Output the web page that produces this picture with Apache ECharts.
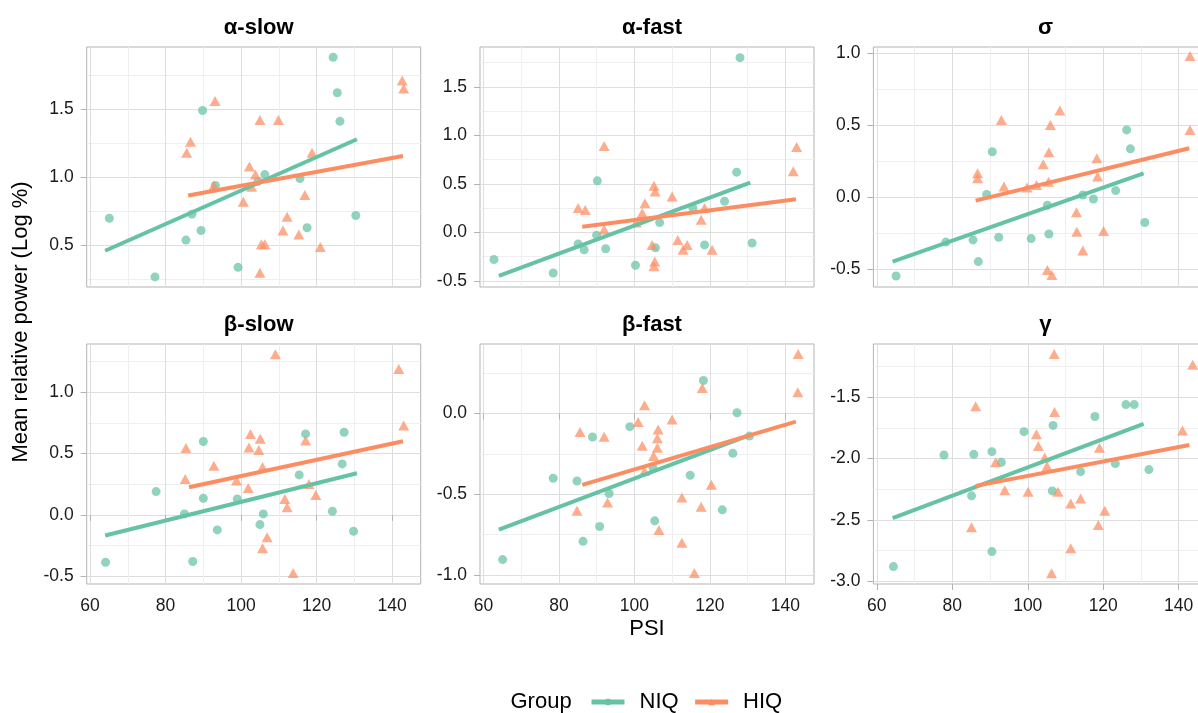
<!DOCTYPE html>
<html><head><meta charset="utf-8">
<script src="https://cdn.jsdelivr.net/npm/echarts@6/dist/echarts.min.js"></script>
<style>html,body{margin:0;padding:0;background:#fff;overflow:hidden;width:1198px;height:713px}#c{width:1216px;height:713px}</style>
</head><body><div id="c"></div>
<script>
const panelTitles = ['α-slow', 'α-fast', 'σ', 'β-slow', 'β-fast', 'γ'];
const xRange = [59.1, 147.6];
const xTicks = [60, 80, 100, 120, 140];
const xMinor = [70, 90, 110, 130];
const yRanges = [[0.196, 1.955], [-0.564, 1.910], [-0.621, 1.04], [-0.563, 1.393], [-1.056, 0.43], [-3.022, -1.065]];
const yTicks = [[0.5, 1.0, 1.5], [-0.5, 0, 0.5, 1.0, 1.5], [-0.5, 0, 0.5, 1.0], [-0.5, 0, 0.5, 1.0], [-1.0, -0.5, 0], [-3.0, -2.5, -2.0, -1.5]];
const yMinor = [[0.25, 0.75, 1.25, 1.75], [-0.25, 0.25, 0.75, 1.25, 1.75], [-0.25, 0.25, 0.75], [-0.25, 0.25, 0.75, 1.25], [-0.75, -0.25, 0.25], [-2.75, -2.25, -1.75, -1.25]];

// α-slow
const aSlowNiqX = [65.1, 77.2, 85.4, 87.0, 89.4, 89.8, 93.2, 99.2, 104.5, 106.3, 115.6, 117.5, 124.4, 125.5, 126.2, 130.4];
const aSlowNiqY = [0.70, 0.27, 0.54, 0.73, 0.61, 1.49, 0.94, 0.34, 0.97, 1.02, 0.99, 0.63, 1.88, 1.62, 1.41, 0.72];
const aSlowHiqX = [85.6, 86.6, 92.8, 93.1, 100.6, 102.2, 103.8, 102.8, 105.0, 105.0, 105.4, 106.3, 109.9, 111.1, 112.2, 115.3, 116.9, 118.8, 121.0, 142.7, 143.1];
const aSlowHiqY = [1.18, 1.26, 0.94, 1.56, 0.82, 1.08, 1.02, 0.93, 1.42, 0.30, 0.51, 0.51, 1.42, 0.61, 0.71, 0.58, 0.87, 1.18, 0.49, 1.71, 1.65];
// α-fast
const aFastNiqX = [62.8, 78.5, 85.1, 86.7, 90.0, 90.2, 92.4, 100.3, 105.6, 106.7, 115.5, 118.6, 123.9, 127.1, 128.0, 131.2];
const aFastNiqY = [-0.28, -0.42, -0.12, -0.18, -0.03, 0.53, -0.17, -0.34, -0.16, 0.10, 0.25, -0.13, 0.32, 0.62, 1.80, -0.11];
const aFastHiqX = [85.1, 87.0, 92.0, 92.0, 100.5, 102.1, 102.8, 104.7, 105.2, 105.5, 105.4, 105.2, 110.0, 111.5, 112.9, 114.0, 117.7, 118.6, 120.6, 142.1, 143.0];
const aFastHiqY = [0.25, 0.23, 0.89, 0.03, 0.10, 0.20, 0.30, -0.13, 0.48, 0.42, -0.30, -0.35, 0.37, -0.08, -0.18, -0.13, 0.13, 0.25, -0.18, 0.63, 0.88];
// σ
const sigmaNiqX = [65.1, 78.3, 85.5, 86.9, 89.1, 90.6, 92.3, 100.9, 105.2, 105.6, 114.6, 117.4, 123.3, 126.2, 127.2, 131.0];
const sigmaNiqY = [-0.545, -0.31, -0.295, -0.445, 0.02, 0.315, -0.277, -0.286, -0.055, -0.254, 0.016, -0.012, 0.046, 0.466, 0.335, -0.175];
const sigmaHiqX = [86.7, 86.7, 93.0, 93.7, 99.8, 102.3, 104.1, 105.6, 105.5, 106.0, 105.2, 106.4, 108.5, 112.9, 113.0, 114.6, 118.3, 118.5, 120.1, 143.0, 143.0];
const sigmaHiqY = [0.166, 0.132, 0.535, 0.074, 0.067, 0.085, 0.228, 0.312, 0.108, 0.50, -0.503, -0.538, 0.60, -0.104, -0.238, -0.369, 0.27, 0.143, -0.233, 0.978, 0.466];
// β-slow
const bSlowNiqX = [64.1, 77.5, 85.0, 87.2, 90.0, 90.0, 93.7, 99.0, 105.0, 105.9, 115.4, 117.1, 124.2, 126.8, 127.3, 129.8];
const bSlowNiqY = [-0.386, 0.19, 0.008, -0.38, 0.598, 0.136, -0.122, 0.13, -0.079, 0.008, 0.326, 0.66, 0.03, 0.416, 0.674, -0.133];
const bSlowHiqX = [85.2, 85.4, 92.8, 98.8, 101.9, 102.1, 102.5, 104.7, 105.1, 105.7, 105.7, 106.9, 109.1, 111.6, 112.2, 113.8, 117.1, 118.0, 119.8, 141.8, 143.1];
const bSlowHiqY = [0.293, 0.546, 0.40, 0.28, 0.22, 0.55, 0.66, 0.53, 0.62, 0.39, -0.272, -0.182, 1.31, 0.13, 0.063, -0.473, 0.606, 0.253, 0.163, 1.19, 0.728];
// β-fast
const bFastNiqX = [65.1, 78.5, 84.8, 86.4, 88.9, 90.8, 93.3, 98.8, 104.9, 105.4, 114.8, 118.3, 123.3, 126.1, 127.2, 130.5];
const bFastNiqY = [-0.905, -0.401, -0.418, -0.792, -0.146, -0.70, -0.496, -0.082, -0.335, -0.665, -0.383, 0.204, -0.597, -0.247, 0.004, -0.14];
const bFastHiqX = [84.8, 85.6, 92.0, 92.9, 101.0, 102.1, 102.7, 102.7, 105.1, 106.1, 106.1, 106.3, 106.5, 110.0, 112.6, 112.6, 115.9, 117.7, 118.0, 120.4, 143.4, 143.3];
const bFastHiqY = [-0.603, -0.115, -0.144, -0.551, -0.053, -0.20, 0.05, -0.356, -0.263, -0.212, -0.154, -0.099, -0.722, -0.037, -0.52, -0.80, -0.988, -0.578, 0.158, -0.442, 0.368, 0.132];
// γ
const gammaNiqX = [64.4, 77.8, 85.1, 85.7, 90.5, 90.5, 93.0, 99.0, 106.7, 106.5, 114.0, 117.8, 123.2, 126.0, 128.2, 132.1];
const gammaNiqY = [-2.88, -1.97, -2.303, -1.965, -1.943, -2.758, -2.03, -1.78, -1.729, -2.263, -2.106, -1.656, -2.04, -1.559, -1.559, -2.089];
const gammaHiqX = [85.1, 86.2, 91.5, 93.9, 100.1, 102.3, 102.8, 104.5, 105.1, 106.3, 107.0, 107.1, 108.0, 111.4, 111.4, 114.0, 118.7, 119.0, 120.4, 141.0, 143.7];
const gammaHiqY = [-2.56, -1.572, -2.03, -2.257, -2.27, -1.80, -1.897, -1.99, -2.06, -2.934, -1.147, -1.62, -2.27, -2.366, -2.73, -2.325, -2.54, -1.91, -2.425, -1.77, -1.234];

// fitted lines: [x0, y0, x1, y1]
const niqFit = [[64.0, 0.462, 130.7, 1.279], [64.1, -0.45, 130.7, 0.512], [64.2, -0.445, 130.7, 0.166], [64.0, -0.168, 130.7, 0.34], [64.1, -0.72, 130.5, -0.134], [64.2, -2.485, 130.7, -1.716]];
const hiqFit = [[86.0, 0.866, 142.9, 1.156], [86.2, 0.058, 142.8, 0.34], [86.2, -0.023, 142.8, 0.339], [86.2, 0.226, 142.9, 0.60], [86.2, -0.442, 142.8, -0.051], [86.2, -2.222, 142.8, -1.889]];

const groups = ['NIQ', 'HIQ'];

const niqXs = [aSlowNiqX, aFastNiqX, sigmaNiqX, bSlowNiqX, bFastNiqX, gammaNiqX];
const niqYs = [aSlowNiqY, aFastNiqY, sigmaNiqY, bSlowNiqY, bFastNiqY, gammaNiqY];
const hiqXs = [aSlowHiqX, aFastHiqX, sigmaHiqX, bSlowHiqX, bFastHiqX, gammaHiqX];
const hiqYs = [aSlowHiqY, aFastHiqY, sigmaHiqY, bSlowHiqY, bFastHiqY, gammaHiqY];

const GREEN = '#66C2A5', ORANGE = '#FC8D62';
const FONT = '"Liberation Sans", Arial, Helvetica, sans-serif';
const colLeft = [86.7, 480, 873.4];
const rowTop = [47, 344];
const PW = 334, PH = 240;
const zip = (a, b) => a.map((v, i) => [v, b[i]]);

const grids = [], xAxes = [], yAxes = [], titles = [], series = [];

// legend dummies
series.push({ name: groups[0], type: 'line', data: [], symbol: 'circle', itemStyle: { color: GREEN }, lineStyle: { color: GREEN, width: 4 } });
series.push({ name: groups[1], type: 'line', data: [], symbol: 'triangle', itemStyle: { color: ORANGE }, lineStyle: { color: ORANGE, width: 4 } });

for (let p = 0; p < 6; p++) {
  const col = p % 3, row = Math.floor(p / 3);
  const bottomRow = row === 1;
  grids.push({ left: colLeft[col], top: rowTop[row], width: PW, height: PH, show: true, borderColor: '#b3b3b3', borderWidth: 1, backgroundColor: 'transparent' });
  // major x
  xAxes.push({
    type: 'value', gridIndex: p, min: xRange[0], max: xRange[1], position: 'bottom',
    axisLine: { show: false },
    axisTick: { show: bottomRow, customValues: xTicks, length: 6, lineStyle: { color: '#b3b3b3' } },
    axisLabel: { show: bottomRow, customValues: xTicks, fontSize: 17.5, color: '#1a1a1a', fontFamily: FONT, margin: 13 },
    splitLine: { show: true, lineStyle: { color: '#dedede', width: 1 } }
  });
  // minor x
  xAxes.push({
    type: 'value', gridIndex: p, min: xRange[0], max: xRange[1], position: 'top',
    axisLine: { show: false },
    axisTick: { show: false, customValues: xMinor },
    axisLabel: { show: false, customValues: xMinor },
    splitLine: { show: true, lineStyle: { color: '#efefef', width: 1 } }
  });
  yAxes.push({
    type: 'value', gridIndex: p, min: yRanges[p][0], max: yRanges[p][1], position: 'left',
    axisLine: { show: false },
    axisTick: { show: true, customValues: yTicks[p], length: 6, lineStyle: { color: '#b3b3b3' } },
    axisLabel: { show: true, customValues: yTicks[p], fontSize: 17.5, color: '#1a1a1a', fontFamily: FONT, margin: 13, formatter: v => v.toFixed(1) },
    splitLine: { show: true, lineStyle: { color: '#dedede', width: 1 } }
  });
  yAxes.push({
    type: 'value', gridIndex: p, min: yRanges[p][0], max: yRanges[p][1], position: 'right',
    axisLine: { show: false },
    axisTick: { show: false, customValues: yMinor[p] },
    axisLabel: { show: false, customValues: yMinor[p] },
    splitLine: { show: true, lineStyle: { color: '#efefef', width: 1 } }
  });
  titles.push({
    text: panelTitles[p], left: colLeft[col] + PW / 2, top: rowTop[row] - 35, textAlign: 'center',
    textStyle: { fontSize: 22, fontWeight: 'bold', color: '#000', fontFamily: FONT }
  });
  const xi = 2 * p, yi = 2 * p;
  series.push({
    name: 'niq-pts', type: 'scatter', xAxisIndex: xi, yAxisIndex: yi, silent: true,
    data: zip(niqXs[p], niqYs[p]), symbol: 'circle', symbolSize: 9,
    itemStyle: { color: GREEN, opacity: 0.72 }
  });
  series.push({
    name: 'hiq-pts', type: 'scatter', xAxisIndex: xi, yAxisIndex: yi, silent: true,
    data: zip(hiqXs[p], hiqYs[p]), symbol: 'triangle', symbolSize: [11, 10],
    itemStyle: { color: ORANGE, opacity: 0.72 }
  });
  series.push({
    name: 'niq-fit', type: 'line', xAxisIndex: xi, yAxisIndex: yi, silent: true, showSymbol: false, symbol: 'none',
    data: [[niqFit[p][0], niqFit[p][1]], [niqFit[p][2], niqFit[p][3]]],
    lineStyle: { color: GREEN, width: 4 }
  });
  series.push({
    name: 'hiq-fit', type: 'line', xAxisIndex: xi, yAxisIndex: yi, silent: true, showSymbol: false, symbol: 'none',
    data: [[hiqFit[p][0], hiqFit[p][1]], [hiqFit[p][2], hiqFit[p][3]]],
    lineStyle: { color: ORANGE, width: 4 }
  });
}

const chart = echarts.init(document.getElementById('c'), null, { renderer: 'canvas' });
chart.setOption({
  backgroundColor: '#ffffff',
  animation: false,
  title: titles,
  grid: grids,
  xAxis: xAxes,
  yAxis: yAxes,
  legend: {
    data: groups, left: 589, top: 690, padding: 0, itemWidth: 33, itemHeight: 8, itemGap: 14, selectedMode: false,
    lineStyle: { width: 5 },
    textStyle: { fontSize: 22, lineHeight: 24, color: '#000', fontFamily: FONT, padding: [0, 0, 0, 10] }
  },
  graphic: [
    { type: 'text', x: 510.5, y: 702, style: { text: 'Group', fontSize: 22, fill: '#000', fontFamily: FONT, align: 'left', verticalAlign: 'middle' } },
    { type: 'text', x: 21, y: 322, rotation: Math.PI / 2, style: { text: 'Mean relative power (Log %)', fontSize: 22, fill: '#000', fontFamily: FONT, align: 'center', verticalAlign: 'middle' } },
    { type: 'text', x: 647, y: 629, style: { text: 'PSI', fontSize: 22, fill: '#000', fontFamily: FONT, align: 'center', verticalAlign: 'middle' } }
  ],
  series: series
});
</script></body></html>
